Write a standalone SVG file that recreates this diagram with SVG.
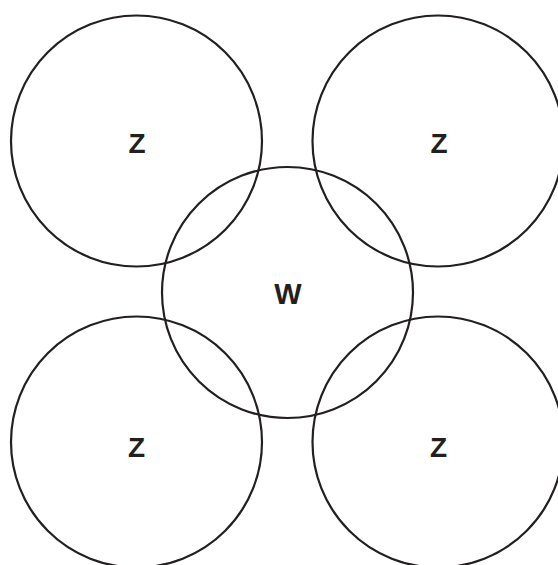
<svg xmlns="http://www.w3.org/2000/svg" width="558" height="565" viewBox="0 0 558 565">
<style>
.c{fill:none;stroke:#231f20;stroke-width:2.2}
.t{font-family:"Liberation Sans",Arial,sans-serif;font-weight:bold;font-size:28px;fill:#231f20;text-anchor:middle}
</style>
<rect width="558" height="565" fill="#fff"/>
<g id="connectors"></g>
<g id="z-top-left"><circle class="c" cx="136.5" cy="141" r="125.5"/><text class="t" x="137" y="152.5">Z</text></g>
<g id="z-top-right"><circle class="c" cx="438" cy="141" r="125.5"/><text class="t" x="439" y="152.5">Z</text></g>
<g id="w-center"><circle class="c" cx="287.5" cy="292.5" r="125.5"/><text class="t" x="288" y="304.3" style="font-size:29px">W</text></g>
<g id="z-bottom-left"><circle class="c" cx="136.5" cy="442" r="125.5"/><text class="t" x="136.5" y="457">Z</text></g>
<g id="z-bottom-right"><circle class="c" cx="438" cy="442" r="125.5"/><text class="t" x="438.5" y="457">Z</text></g>
</svg>
